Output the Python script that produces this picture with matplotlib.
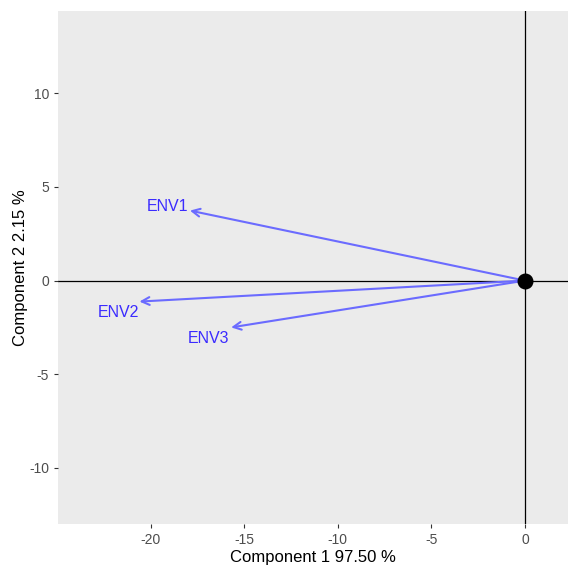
import numpy as np
import matplotlib.pyplot as plt

plt.rcParams["axes.unicode_minus"] = False
plt.rcParams["font.family"] = ["Liberation Sans", "DejaVu Sans"]

# loadings (component 1, component 2)
env_names = ["ENV1", "ENV2", "ENV3"]
comp1 = [-17.9, -20.6, -15.7]
comp2 = [3.74, -1.12, -2.5]
label_x = [-19.1, -21.7, -16.9]
label_y = [3.95, -1.7, -3.1]

fig = plt.figure(figsize=(5.68, 5.75), dpi=100)
ax = fig.add_axes([58 / 568, 51 / 575, 510 / 568, 513 / 575])
ax.set_facecolor("#EBEBEB")
for s in ax.spines.values():
    s.set_visible(False)

ax.axhline(0, color="black", lw=0.9, zorder=1)
ax.axvline(0, color="black", lw=0.9, zorder=1)

for x, y in zip(comp1, comp2):
    ax.annotate("", xy=(x, y), xytext=(0, 0),
                arrowprops=dict(arrowstyle="->", color="#6B6BFF", lw=1.5,
                                mutation_scale=14, shrinkA=0, shrinkB=0),
                zorder=2)
for name, x, y in zip(env_names, label_x, label_y):
    ax.text(x, y, name, color="#3B2BFF", fontsize=11.5, ha="center", va="center")

ax.scatter([0], [0], s=110, color="black", zorder=3)

ax.set_xlim(-24.95, 2.3)
ax.set_ylim(-13.0, 14.4)
ax.set_xticks([-20, -15, -10, -5, 0])
ax.set_yticks([-10, -5, 0, 5, 10])
ax.tick_params(colors="#333333", labelcolor="#4D4D4D", labelsize=10, length=3)
ax.set_xlabel("Component 1 97.50 %", fontsize=12, labelpad=2)
ax.set_ylabel("Component 2 2.15 %", fontsize=12, labelpad=1)

fig.savefig("out.png", dpi=100)
